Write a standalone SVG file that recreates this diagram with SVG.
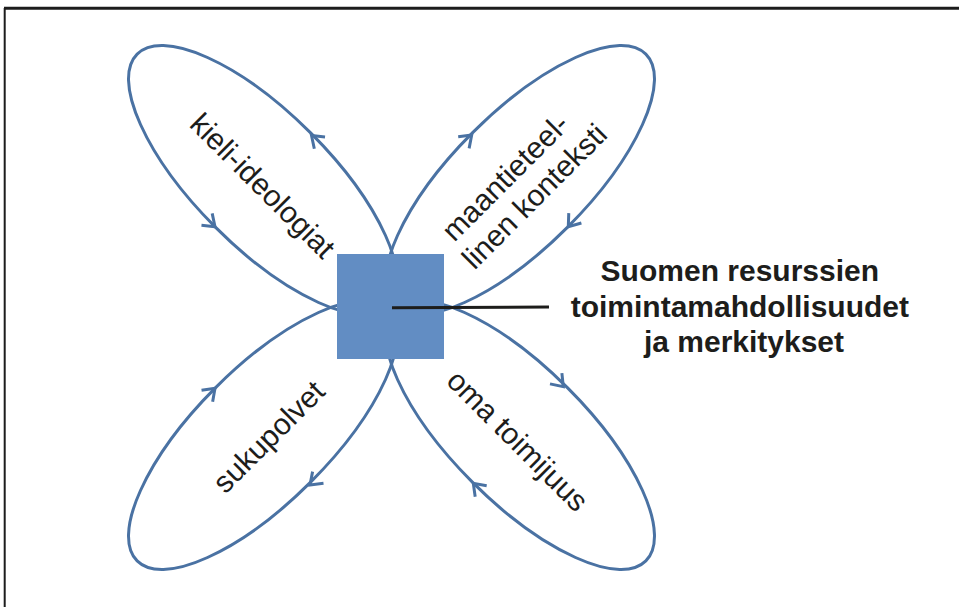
<svg xmlns="http://www.w3.org/2000/svg" width="959" height="607" viewBox="0 0 959 607">
  <style>
    .frame { stroke: #1c1c1c; fill: none; }
    .loop { fill: none; stroke: #4a72a3; stroke-width: 3; }
    .chev { fill: none; stroke: #4a72a3; stroke-width: 3; stroke-linejoin: miter; }
    .lbl { font-family: "Liberation Sans", Arial, sans-serif; font-size: 30px; fill: #1d1d1b; text-anchor: middle; }
    .title { font-family: "Liberation Sans", Arial, sans-serif; font-size: 30px; font-weight: bold; fill: #1d1d1b; text-anchor: middle; }
  </style>
  <defs>
    <!-- open arrowhead, apex at origin, pointing along +x -->
    <path id="chevron" class="chev" d="M-11,-8 L0,0 L-11,8"/>
  </defs>

  <rect width="959" height="607" fill="#ffffff"/>

  <!-- frame -->
  <g id="frame">
    <line class="frame" x1="4" y1="8.2" x2="959" y2="8.2" stroke-width="3"/>
    <line class="frame" x1="4.7" y1="8" x2="4.7" y2="607" stroke-width="2"/>
  </g>

  <!-- connectors: four loops and their direction arrows -->
  <g id="connectors">
    <ellipse class="loop" cx="263" cy="180" rx="178" ry="67" transform="rotate(45 263 180)"/>
    <ellipse class="loop" cx="520" cy="180" rx="178" ry="67" transform="rotate(-45 520 180)"/>
    <ellipse class="loop" cx="263" cy="435" rx="178" ry="67" transform="rotate(-45 263 435)"/>
    <ellipse class="loop" cx="520" cy="435" rx="178" ry="67" transform="rotate(45 520 435)"/>

    <use href="#chevron" transform="translate(311.5 135.5) rotate(-138)"/>
    <use href="#chevron" transform="translate(215 226.7) rotate(42)"/>
    <use href="#chevron" transform="translate(471.7 135) rotate(-43)"/>
    <use href="#chevron" transform="translate(568.3 226.7) rotate(128)"/>
    <use href="#chevron" transform="translate(215 388.3) rotate(-44)"/>
    <use href="#chevron" transform="translate(310 485) rotate(137)"/>
    <use href="#chevron" transform="translate(563.3 386.7) rotate(48)"/>
    <use href="#chevron" transform="translate(473.3 483.3) rotate(-134)"/>
  </g>

  <!-- central node -->
  <g id="centre">
    <rect x="337" y="254" width="107" height="105" fill="#628dc3"/>
  </g>

  <!-- pointer from the centre to its caption -->
  <g id="pointer">
    <line x1="392" y1="307.7" x2="549" y2="307" stroke="#1d1d1b" stroke-width="3"/>
  </g>

  <g id="caption">
    <text class="title">
      <tspan x="744" y="281">Suomen resurssien</tspan>
      <tspan x="744" y="317">toimintamahdollisuudet</tspan>
      <tspan x="744" y="352">ja merkitykset</tspan>
    </text>
  </g>

  <g id="kieli-ideologiat">
    <text class="lbl" transform="translate(255.5 193) rotate(45)">kieli-ideologiat</text>
  </g>

  <g id="maantieteellinen-konteksti">
    <text class="lbl" transform="translate(515.5 181.5) rotate(-45)">
      <tspan x="0" y="0">maantieteel-</tspan>
      <tspan x="3" y="34">linen konteksti</tspan>
    </text>
  </g>

  <g id="sukupolvet">
    <text class="lbl" transform="translate(276 444) rotate(-45)">sukupolvet</text>
  </g>

  <g id="oma-toimijuus">
    <text class="lbl" transform="translate(510.5 448) rotate(45)">oma toimijuus</text>
  </g>
</svg>
